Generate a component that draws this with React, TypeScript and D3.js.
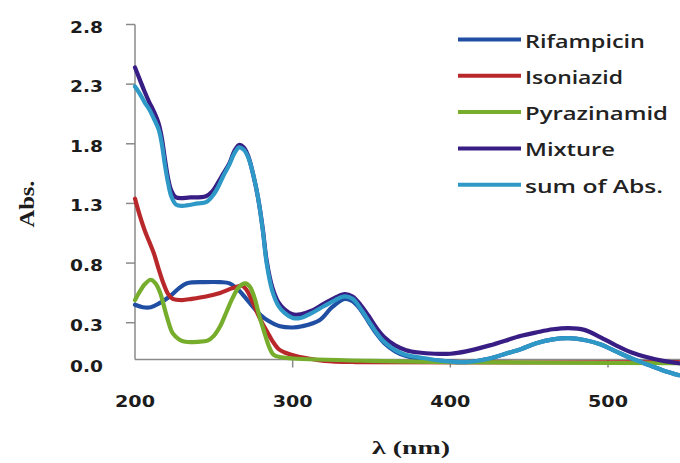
import React from "react";
import * as d3 from "d3";

// ---- data ----
const rifampicinWl = [200,205,210,215,222,228,233,244,254,260,266,270,275,280,284,292,300,306,317,325,333,338,343,348,353,358,365,372,380,395,410,425,435,445,455,465,475,485,495,505,515,525,535,545];
const rifampicinAbs = [0.45,0.43,0.43,0.46,0.52,0.59,0.63,0.64,0.64,0.63,0.57,0.51,0.43,0.36,0.32,0.27,0.26,0.27,0.32,0.43,0.50,0.48,0.41,0.31,0.21,0.13,0.06,0.02,0.0,-0.02,-0.03,0.0,0.04,0.08,0.13,0.16,0.17,0.155,0.12,0.06,0.0,-0.05,-0.10,-0.14];

const isoniazidWl = [200,203,206,209,212,215,218,221,224,230,236,245,254,262,268,271,275,278,281,284,287,291,295,302,310,320,340,545];
const isoniazidAbs = [1.34,1.20,1.08,0.98,0.88,0.75,0.63,0.54,0.50,0.49,0.50,0.52,0.55,0.59,0.61,0.57,0.46,0.37,0.29,0.22,0.15,0.08,0.05,0.02,0.0,-0.02,-0.03,-0.03];

const pyrazinamidWl = [200,203,206,210,213,216,220,224,228,232,240,246,250,254,258,262,266,270,273,276,279,282,285,288,293,300,350,400,545];
const pyrazinamidAbs = [0.49,0.56,0.62,0.66,0.63,0.55,0.36,0.21,0.16,0.14,0.14,0.15,0.19,0.27,0.39,0.51,0.60,0.63,0.60,0.50,0.35,0.22,0.10,0.03,0.01,0.0,-0.02,-0.03,-0.04];

const mixtureWl = [200,203,206,209,212,215,217,219,221,223,226,235,245,249,252,256,260,263,266,269,272,275,278,281,283.5,287,291,295,300,305,312,320,327,333,338,343,348,353,358,365,372,380,390,400,410,425,445,455,465,475,485,495,505,515,525,535,545];
const mixtureAbs = [2.44,2.34,2.24,2.15,2.07,1.97,1.85,1.67,1.51,1.41,1.35,1.35,1.36,1.40,1.46,1.55,1.64,1.74,1.79,1.77,1.69,1.54,1.35,1.09,0.82,0.60,0.47,0.41,0.37,0.37,0.40,0.46,0.51,0.54,0.52,0.45,0.36,0.26,0.18,0.11,0.07,0.05,0.04,0.04,0.06,0.11,0.19,0.22,0.245,0.255,0.24,0.18,0.11,0.05,0.01,-0.02,-0.04];

const sumWl = [200,203,206,209,212,215,217,219,221,223,226,230,240,245,249,252,256,260,263,266,269,272,275,278,281,283.5,287,291,295,300,305,312,320,327,333,338,343,348,353,358,365,372,380,395,410,425,435,445,455,465,475,485,495,505,515,525,535,545];
const sumAbs = [2.28,2.22,2.15,2.09,2.01,1.92,1.80,1.62,1.47,1.36,1.29,1.28,1.30,1.31,1.36,1.42,1.53,1.63,1.72,1.77,1.75,1.68,1.54,1.35,1.08,0.80,0.57,0.44,0.38,0.34,0.34,0.38,0.44,0.49,0.52,0.50,0.42,0.32,0.22,0.14,0.07,0.03,0.01,-0.02,-0.03,0.0,0.04,0.08,0.13,0.16,0.17,0.155,0.12,0.06,0.0,-0.05,-0.10,-0.14];

const seriesNames = ["Rifampicin", "Isoniazid", "Pyrazinamid", "Mixture", "sum of Abs."];
const seriesWl = [rifampicinWl, isoniazidWl, pyrazinamidWl, mixtureWl, sumWl];
const seriesAbs = [rifampicinAbs, isoniazidAbs, pyrazinamidAbs, mixtureAbs, sumAbs];

const yTicks = [0.3, 0.8, 1.3, 1.8, 2.3, 2.8];
const xTicks = [200, 300, 400, 500];

// ---- styles ----
const colors = ["#1f4ea3", "#b8282b", "#76ad2c", "#381e84", "#2e98c6"];
const legendTextWidths = [120, 98, 143, 90, 138];

const W = 680;
const H = 463;

export default function App() {
  const x = d3.scaleLinear().domain([200, 500]).range([135, 608]);
  const y = d3.scaleLinear().domain([0, 2.8]).range([358.5, 24.5]);
  const line = d3
    .line<[number, number]>()
    .x((d) => x(d[0]))
    .y((d) => y(d[1]))
    .curve(d3.curveCatmullRom.alpha(0.5));

  const axisColor = "#8a8a8a";
  const tickFont = "'DejaVu Sans', Verdana, sans-serif";
  const x0 = x(200);
  const yBase = y(0) + 1;

  return (
    <svg
      width={W}
      height={H}
      viewBox={`0 0 ${W} ${H}`}
      style={{ position: "absolute", left: 0, top: 0, display: "block", background: "#fff" }}
    >
      <rect x={0} y={0} width={W} height={H} fill="#fff" />

      {/* y axis */}
      <line x1={x0} x2={x0} y1={y(2.8)} y2={yBase} stroke={axisColor} strokeWidth={1.5} />
      {yTicks.map((t) => (
        <g key={t}>
          <line x1={x0 - 9} x2={x0} y1={y(t)} y2={y(t)} stroke={axisColor} strokeWidth={1.5} />
          <text
            x={103}
            y={y(t) + 3}
            textAnchor="end"
            dominantBaseline="central"
            fontFamily={tickFont}
            fontWeight="bold"
            fontSize={15}
            fill="#1c1c1c"
            textLength={33}
            lengthAdjust="spacingAndGlyphs"
          >
            {t.toFixed(1)}
          </text>
        </g>
      ))}
      <text
        x={103}
        y={y(0) + 8.5}
        textAnchor="end"
        dominantBaseline="central"
        fontFamily={tickFont}
        fontWeight="bold"
        fontSize={15}
        fill="#1c1c1c"
        textLength={33}
        lengthAdjust="spacingAndGlyphs"
      >
        0.0
      </text>

      {/* x axis */}
      <line x1={x0} x2={W} y1={yBase} y2={yBase} stroke={axisColor} strokeWidth={1.5} />
      {xTicks.map((t) => (
        <g key={t}>
          {t !== 200 && (
            <line x1={x(t)} x2={x(t)} y1={yBase} y2={yBase + 8} stroke={axisColor} strokeWidth={1.5} />
          )}
          <text
            x={x(t)}
            y={402}
            textAnchor="middle"
            dominantBaseline="central"
            fontFamily={tickFont}
            fontWeight="bold"
            fontSize={15}
            fill="#1c1c1c"
            textLength={40}
            lengthAdjust="spacingAndGlyphs"
          >
            {t}
          </text>
        </g>
      ))}

      {/* series */}
      {seriesNames.map((name, i) => {
        const pts = seriesWl[i].map((w, j) => [w, seriesAbs[i][j]] as [number, number]);
        return (
          <path
            key={name}
            d={line(pts) || ""}
            fill="none"
            stroke={colors[i]}
            strokeWidth={4.2}
            strokeLinejoin="round"
            strokeLinecap="round"
          />
        );
      })}

      {/* legend */}
      {seriesNames.map((name, i) => {
        const ly = 39.5 + i * 36.3;
        return (
          <g key={"lg" + name}>
            <line x1={458} x2={521} y1={ly} y2={ly} stroke={colors[i]} strokeWidth={4} />
            <text
              x={525}
              y={ly + 1}
              dominantBaseline="central"
              fontFamily="'Open Sans', 'Noto Sans', sans-serif"
              fontWeight={600}
              fontSize={18}
              fill="#222"
              textLength={legendTextWidths[i]}
              lengthAdjust="spacingAndGlyphs"
            >
              {name}
            </text>
          </g>
        );
      })}

      {/* axis titles */}
      <text
        transform={`translate(26, 204) rotate(-90)`}
        textAnchor="middle"
        dominantBaseline="central"
        fontFamily="'Liberation Serif', 'Times New Roman', serif"
        fontWeight="bold"
        fontSize={22}
        fill="#1c1c1c"
        textLength={47}
        lengthAdjust="spacingAndGlyphs"
      >
        Abs.
      </text>
      <text
        x={411}
        y={447}
        textAnchor="middle"
        dominantBaseline="central"
        fontFamily="'Liberation Serif', 'Times New Roman', serif"
        fontWeight="bold"
        fontSize={19}
        fill="#1c1c1c"
        textLength={78}
        lengthAdjust="spacingAndGlyphs"
      >
        λ (nm)
      </text>
    </svg>
  );
}
